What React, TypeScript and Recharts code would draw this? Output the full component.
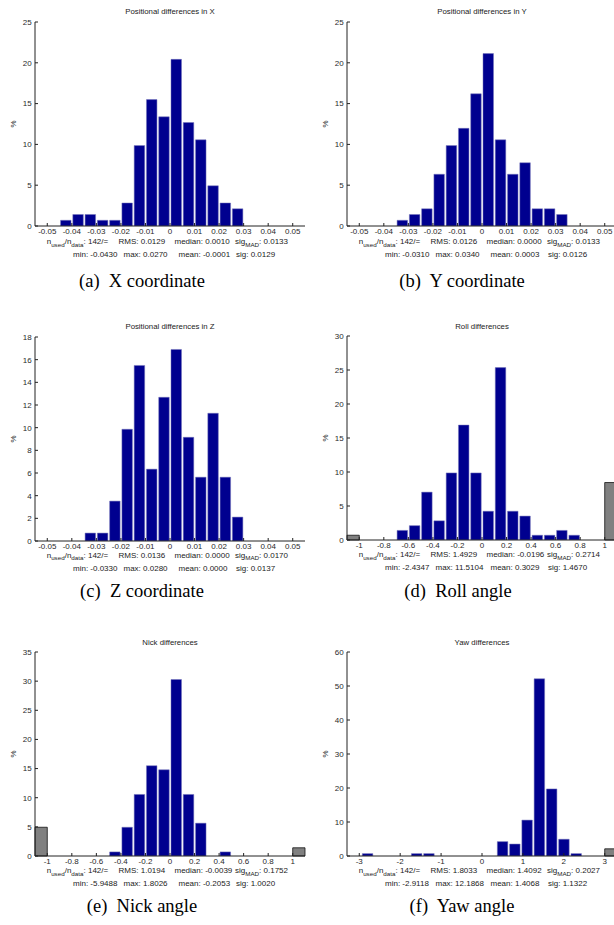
import React from 'react';
import { BarChart, Bar, XAxis, YAxis, ReferenceArea } from 'recharts';

// ---------- tick labels ----------
const posTicks = [-0.05, -0.04, -0.03, -0.02, -0.01, 0, 0.01, 0.02, 0.03, 0.04, 0.05];
const angTicks = [-1, -0.8, -0.6, -0.4, -0.2, 0, 0.2, 0.4, 0.6, 0.8, 1];
const yawTicks = [-3, -2, -1, 0, 1, 2, 3];
const yTicks25 = [0, 5, 10, 15, 20, 25];
const yTicks18 = [0, 2, 4, 6, 8, 10, 12, 14, 16, 18];
const yTicks30 = [0, 5, 10, 15, 20, 25, 30];
const yTicks35 = [0, 5, 10, 15, 20, 25, 30, 35];
const yTicks60 = [0, 10, 20, 30, 40, 50, 60];

// ---------- (a) X ----------
const xBins = [-0.0425, -0.0375, -0.0325, -0.0275, -0.0225, -0.0175, -0.0125, -0.0075, -0.0025, 0.0025, 0.0075, 0.0125, 0.0175, 0.0225, 0.0275];
const xPct = [0.70, 1.41, 1.41, 0.70, 0.70, 2.82, 9.86, 15.49, 13.38, 20.42, 12.68, 10.56, 4.93, 2.82, 2.11];

// ---------- (b) Y ----------
const yBins = [-0.0325, -0.0275, -0.0225, -0.0175, -0.0125, -0.0075, -0.0025, 0.0025, 0.0075, 0.0125, 0.0175, 0.0225, 0.0275, 0.0325];
const yPct = [0.70, 1.41, 2.11, 6.34, 9.86, 11.97, 16.20, 21.13, 10.56, 6.34, 7.75, 2.11, 2.11, 1.41];

// ---------- (c) Z ----------
const zBins = [-0.0325, -0.0275, -0.0225, -0.0175, -0.0125, -0.0075, -0.0025, 0.0025, 0.0075, 0.0125, 0.0175, 0.0225, 0.0275];
const zPct = [0.70, 0.70, 3.52, 9.86, 15.49, 6.34, 12.68, 16.90, 9.15, 5.63, 11.27, 5.63, 2.11];

// ---------- (d) Roll ----------
const rollBins = [-0.65, -0.55, -0.45, -0.35, -0.25, -0.15, -0.05, 0.05, 0.15, 0.25, 0.35, 0.45, 0.55, 0.65, 0.75];
const rollPct = [1.41, 2.11, 7.04, 2.82, 9.86, 16.90, 9.86, 4.23, 25.35, 4.23, 3.52, 0.70, 0.70, 1.41, 0.70];
const rollOutFrom = [-1.1, 1.0];
const rollOutTo = [-1.0, 1.1];
const rollOutPct = [0.70, 8.45];

// ---------- (e) Nick ----------
const nickBins = [-0.45, -0.35, -0.25, -0.15, -0.05, 0.05, 0.15, 0.25, 0.45];
const nickPct = [0.70, 4.93, 10.56, 15.49, 14.79, 30.28, 10.56, 5.63, 0.70];
const nickOutFrom = [-1.1, 1.0];
const nickOutTo = [-1.0, 1.1];
const nickOutPct = [4.93, 1.41];

// ---------- (f) Yaw ----------
const yawBins = [-2.8, -1.6, -1.3, 0.5, 0.8, 1.1, 1.4, 1.7, 2.0, 2.3];
const yawPct = [0.70, 0.70, 0.70, 4.23, 3.52, 10.56, 52.11, 19.72, 4.93, 0.70];
const yawOutFrom = [3.0];
const yawOutTo = [3.3];
const yawOutPct = [2.11];

// ---------- texts ----------
const titles = ['Positional differences in X', 'Positional differences in Y', 'Positional differences in Z', 'Roll differences', 'Nick differences', 'Yaw differences'];
const captions = ['(a)  X coordinate', '(b)  Y coordinate', '(c)  Z coordinate', '(d)  Roll angle', '(e)  Nick angle', '(f)  Yaw angle'];
const statRMS = ['0.0129', '0.0126', '0.0136', '1.4929', '1.0194', '1.8033'];
const statMedian = ['0.0010', '0.0000', '0.0000', '-0.0196', '-0.0039', '1.4092'];
const statSigMAD = ['0.0133', '0.0133', '0.0170', '0.2714', '0.1752', '0.2027'];
const statMin = ['-0.0430', '-0.0310', '-0.0330', '-2.4347', '-5.9488', '-2.9118'];
const statMax = ['0.0270', '0.0340', '0.0280', '11.5104', '1.8026', '12.1868'];
const statMean = ['-0.0001', '0.0003', '0.0000', '0.3029', '-0.2053', '1.4068'];
const statSig = ['0.0129', '0.0126', '0.0137', '1.4670', '1.0020', '1.1322'];

const SANS = '"Liberation Sans", Arial, Helvetica, sans-serif';
const SERIF = '"Liberation Serif", "Times New Roman", serif';
const BLUE = '#00008f';

const BOX_W = 270;
const BOX_H = 204;
const ML = 35; // space left of the box inside the chart svg
const MT = 25;

type PanelProps = {
  idx: number;
  boxLeft: number;
  boxTop: number;
  captionY: number;
  captionX: number;
  statDy: number;
  domain: [number, number];
  xTicks: number[];
  yTicks: number[];
  bins: number[];
  pct: number[];
  outFrom?: number[];
  outTo?: number[];
  outPct?: number[];
};

const Sub = ({ children }: { children: React.ReactNode }) => (
  <span style={{ fontSize: '0.78em', position: 'relative', top: '2.6px' }}>{children}</span>
);

function abs(left: number, top: number, extra: React.CSSProperties = {}): React.CSSProperties {
  return { position: 'absolute', left, top, whiteSpace: 'pre', lineHeight: 1, ...extra };
}

function Panel(p: PanelProps) {
  const data = p.bins.map((x, i) => ({ x, v: p.pct[i] }));
  const yMax = p.yTicks[p.yTicks.length - 1];
  const tickStyle = { fontSize: 8, fill: '#2a2a2a', fontFamily: SANS };
  const lineStyle = { stroke: '#222', strokeWidth: 1 };
  const bottom = p.boxTop + BOX_H;
  const statFs = 8;
  const l1 = bottom + 15 + p.statDy;
  const l2 = bottom + 28 + p.statDy;
  const i = p.idx;
  const st = (x: number, y: number): React.CSSProperties =>
    abs(p.boxLeft + x, y, { transform: 'translateY(-50%)', fontFamily: SANS, fontSize: statFs, color: '#222' });
  return (
    <>
      <div style={{ position: 'absolute', left: p.boxLeft - ML, top: p.boxTop - MT }}>
        <BarChart
          width={ML + BOX_W + 5}
          height={MT + BOX_H + 20}
          data={data}
          margin={{ top: MT, right: 5, bottom: 0, left: 0 }}
          barSize={10.5}
        >
          <XAxis
            dataKey="x"
            type="number"
            domain={p.domain}
            ticks={p.xTicks}
            interval={0}
            allowDataOverflow
            height={20}
            tickSize={-3}
            tickMargin={5.5}
            tick={tickStyle}
            tickLine={lineStyle}
            axisLine={lineStyle}
          />
          <XAxis
            xAxisId="top"
            orientation="top"
            dataKey="x"
            type="number"
            domain={p.domain}
            ticks={p.xTicks}
            interval={0}
            allowDataOverflow
            height={0}
            tickSize={-3}
            tick={false}
            tickLine={lineStyle}
            axisLine={lineStyle}
          />
          <YAxis
            type="number"
            domain={[0, yMax]}
            ticks={p.yTicks}
            interval={0}
            allowDataOverflow
            width={ML}
            tickSize={-3}
            tickMargin={6.3}
            tick={tickStyle}
            tickLine={lineStyle}
            axisLine={lineStyle}
          />
          <YAxis
            yAxisId="right"
            orientation="right"
            type="number"
            domain={[0, yMax]}
            ticks={p.yTicks}
            interval={0}
            allowDataOverflow
            width={0}
            tickSize={-3}
            tick={false}
            tickLine={lineStyle}
            axisLine={lineStyle}
          />
          <Bar dataKey="v" fill={BLUE} stroke="#7777bb" strokeWidth={0.5} barSize={10.5} isAnimationActive={false} />
          {(p.outFrom || []).map((f, k) => (
            <ReferenceArea
              key={k}
              x1={f}
              x2={(p.outTo as number[])[k]}
              y1={0}
              y2={(p.outPct as number[])[k]}
              fill="#808080"
              fillOpacity={1}
              stroke="#111"
              strokeWidth={0.8}
              ifOverflow="visible"
            />
          ))}
        </BarChart>
      </div>
      {/* title */}
      <div style={abs(p.boxLeft + BOX_W / 2, p.boxTop - 9.3, { transform: 'translate(-50%, -50%)', fontFamily: SANS, fontSize: 7.8, color: '#222' })}>
        {titles[i]}
      </div>
      {/* y label */}
      <div style={abs(p.boxLeft - 21, p.boxTop + BOX_H / 2, { transform: 'translate(-50%, -50%) rotate(-90deg)', fontFamily: SANS, fontSize: 8, color: '#222' })}>
        %
      </div>
      {/* stats line 1 */}
      <div style={st(11.7, l1)}>
        n<Sub>used</Sub>/n<Sub>data</Sub>: 142/=
      </div>
      <div style={st(83.5, l1)}>{'RMS: ' + statRMS[i]}</div>
      <div style={st(139.5, l1)}>{'median: ' + statMedian[i]}</div>
      <div style={st(200, l1)}>
        sig<Sub>MAD</Sub>{': ' + statSigMAD[i]}
      </div>
      {/* stats line 2 */}
      <div style={st(38, l2)}>{'min: ' + statMin[i]}</div>
      <div style={st(88.5, l2)}>{'max: ' + statMax[i]}</div>
      <div style={st(143.5, l2)}>{'mean: ' + statMean[i]}</div>
      <div style={st(201, l2)}>{'sig: ' + statSig[i]}</div>
      {/* caption */}
      <div style={abs(p.captionX, p.captionY, { transform: 'translate(-50%, -50%)', fontFamily: SERIF, fontSize: 18.5, color: '#000' })}>
        {captions[i]}
      </div>
    </>
  );
}

export default function App() {
  const posDom: [number, number] = [-0.055, 0.055];
  const angDom: [number, number] = [-1.1, 1.1];
  const yawDom: [number, number] = [-3.3, 3.3];
  const L = 35;
  const R = 347;
  return (
    <div style={{ position: 'absolute', left: 0, top: 0, width: 614, height: 925, overflow: 'hidden', background: '#fff' }}>
      <Panel idx={0} boxLeft={L} boxTop={21.7} statDy={1.5} captionX={142} captionY={281} domain={posDom} xTicks={posTicks} yTicks={yTicks25} bins={xBins} pct={xPct} />
      <Panel idx={1} boxLeft={R} boxTop={21.7} statDy={1.5} captionX={462} captionY={281} domain={posDom} xTicks={posTicks} yTicks={yTicks25} bins={yBins} pct={yPct} />
      <Panel idx={2} boxLeft={L} boxTop={336.5} statDy={0} captionX={142} captionY={591} domain={posDom} xTicks={posTicks} yTicks={yTicks18} bins={zBins} pct={zPct} />
      <Panel idx={3} boxLeft={R} boxTop={336.2} statDy={0} captionX={458} captionY={591} domain={angDom} xTicks={angTicks} yTicks={yTicks30} bins={rollBins} pct={rollPct} outFrom={rollOutFrom} outTo={rollOutTo} outPct={rollOutPct} />
      <Panel idx={4} boxLeft={L} boxTop={652.2} statDy={0} captionX={142} captionY={906} domain={angDom} xTicks={angTicks} yTicks={yTicks35} bins={nickBins} pct={nickPct} outFrom={nickOutFrom} outTo={nickOutTo} outPct={nickOutPct} />
      <Panel idx={5} boxLeft={R} boxTop={652.3} statDy={0} captionX={462} captionY={906} domain={yawDom} xTicks={yawTicks} yTicks={yTicks60} bins={yawBins} pct={yawPct} outFrom={yawOutFrom} outTo={yawOutTo} outPct={yawOutPct} />
    </div>
  );
}
